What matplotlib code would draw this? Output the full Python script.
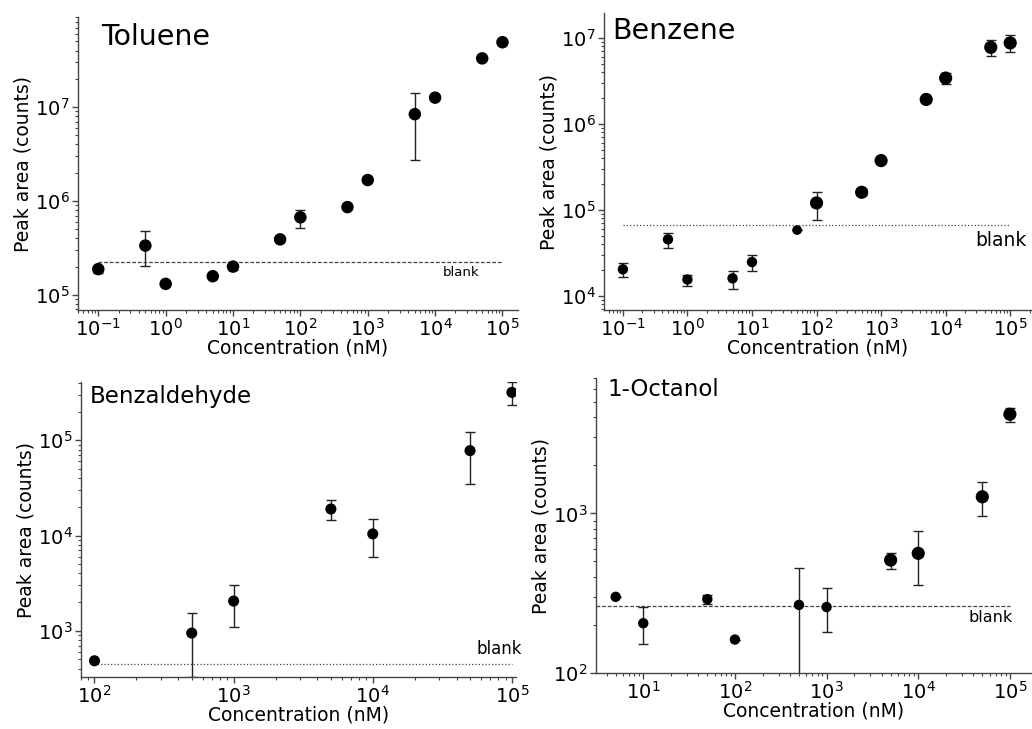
import numpy as np
import matplotlib
matplotlib.use('Agg')
from matplotlib import pyplot as plt
from matplotlib.ticker import LogLocator, NullFormatter, LogFormatterMathtext

plt.rcParams['font.family'] = ['DejaVu Sans']
plt.rcParams['mathtext.fontset'] = 'dejavusans'

# Toluene
tol_conc = [0.1, 0.5, 1, 5, 10, 50, 100, 500, 1000, 5000, 1e4, 5e4, 1e5]
tol_area = [1.88e5, 3.35e5, 1.31e5, 1.58e5, 2.0e5, 3.9e5, 6.7e5, 8.6e5, 1.67e6, 8.4e6, 1.26e7, 3.3e7, 4.9e7]
tol_lo = [1.7e5, 2.03e5, 1.31e5, 1.58e5, 1.85e5, 3.9e5, 5.2e5, 8.6e5, 1.67e6, 2.7e6, 1.26e7, 3.3e7, 4.9e7]
tol_hi = [2.0e5, 4.8e5, 1.31e5, 1.58e5, 2.1e5, 3.9e5, 8.1e5, 8.6e5, 1.67e6, 1.42e7, 1.26e7, 3.3e7, 4.9e7]
tol_blank = 2.26e5

# Benzene
ben_conc = [0.1, 0.5, 1, 5, 10, 50, 100, 500, 1000, 5000, 1e4, 5e4, 1e5]
ben_area = [2.05e4, 4.57e4, 1.56e4, 1.61e4, 2.49e4, 5.86e4, 1.21e5, 1.61e5, 3.76e5, 1.93e6, 3.42e6, 7.78e6, 8.75e6]
ben_lo = [1.68e4, 3.65e4, 1.32e4, 1.22e4, 1.97e4, 5.86e4, 7.67e4, 1.48e5, 3.6e5, 1.85e6, 2.92e6, 6.2e6, 6.8e6]
ben_hi = [2.4e4, 5.4e4, 1.77e4, 1.95e4, 3.0e4, 5.86e4, 1.64e5, 1.75e5, 3.9e5, 2.0e6, 3.9e6, 9.4e6, 1.08e7]
ben_blank = 6.65e4

# Benzaldehyde
bza_conc = [100, 500, 1000, 5000, 1e4, 5e4, 1e5]
bza_area = [484, 946, 2050, 1.9e4, 1.04e4, 7.8e4, 3.19e5]
bza_lo = [484, 330, 1090, 1.46e4, 5.9e3, 3.5e4, 2.35e5]
bza_hi = [484, 1550, 3000, 2.36e4, 1.49e4, 1.21e5, 4.06e5]
bza_blank = 447

# 1-Octanol
oct_conc = [5, 10, 50, 100, 500, 1000, 5000, 1e4, 5e4, 1e5]
oct_area = [300, 205, 290, 162, 267, 259, 510, 562, 1270, 4180]
oct_lo = [300, 152, 271, 162, 80, 181, 451, 356, 957, 3760]
oct_hi = [300, 259, 308, 162, 455, 340, 568, 772, 1577, 4570]
oct_blank = 262

W, H = 1032, 729
fig = plt.figure(figsize=(W / 100, H / 100), dpi=100)


def rect(l, r, t, b):
    return [l / W, 1 - b / H, (r - l) / W, (b - t) / H]


def panel(box, x, y, lo, hi, blank, blank_x0, xlim, ylim, title, tsize, tpos,
          ms, ls, bpos, bsize):
    ax = fig.add_axes(rect(*box))
    x = np.array(x); y = np.array(y)
    yerr = [y - np.array(lo), np.array(hi) - y]
    ax.plot([blank_x0, 1e5], [blank, blank], color='#444444', lw=0.9, ls=ls)
    ax.errorbar(x, y, yerr=yerr, fmt='none', ecolor='#222222', elinewidth=1.0,
                capsize=3.5, capthick=1.0)
    ax.scatter(x, y, s=np.array(ms) ** 2, color='black', zorder=3, linewidths=0)
    ax.set_xscale('log'); ax.set_yscale('log')
    ax.set_xlim(*xlim); ax.set_ylim(*ylim)
    for a in (ax.xaxis, ax.yaxis):
        a.set_major_locator(LogLocator(base=10, numticks=20))
        a.set_minor_locator(LogLocator(base=10, subs=np.arange(2, 10), numticks=20))
        a.set_major_formatter(LogFormatterMathtext())
        a.set_minor_formatter(NullFormatter())
    for s in ('top', 'right'):
        ax.spines[s].set_visible(False)
    for s in ('left', 'bottom'):
        ax.spines[s].set_color('#444444')
        ax.spines[s].set_linewidth(1.0)
    ax.tick_params(which='major', direction='out', length=4, width=1, color='#444444',
                   labelsize=14, pad=2)
    ax.tick_params(which='minor', direction='out', length=2.5, width=0.8, color='#444444')
    ax.set_xlabel('Concentration (nM)', fontsize=13.5, labelpad=-1)
    ax.set_ylabel('Peak area (counts)', fontsize=13.5, labelpad=2)
    ax.set_facecolor('none')
    fig.text(tpos[0] / W, 1 - tpos[1] / H, title, fontsize=tsize, va='center', ha='left')
    fig.text(bpos[0] / W, 1 - bpos[1] / H, 'blank', fontsize=bsize, va='center', ha='left')
    return ax


panel((78, 518, 17, 310), tol_conc, tol_area, tol_lo, tol_hi, tol_blank, 0.1,
      (0.05, 1.7e5), (6.9e4, 9.1e7), 'Toluene', 20.5, (101, 37),
      [9] * 13, (0, (3, 1.5)), (443, 273), 9.5)
panel((604, 1031, 13, 310), ben_conc, ben_area, ben_lo, ben_hi, ben_blank, 0.1,
      (0.051, 2.1e5), (6.9e3, 1.95e7), 'Benzene', 20.5, (612, 31),
      [7.5, 7.5, 7.5, 7.5, 7.5, 7, 9.5, 9.5, 9.5, 9.5, 9.5, 9.5, 9.5], ':', (975, 240), 13.5)
panel((81, 516, 382, 677), bza_conc, bza_area, bza_lo, bza_hi, bza_blank, 100,
      (80, 1.07e5), (327, 4.1e5), 'Benzaldehyde', 16.5, (90, 396),
      [8] * 7, ':', (476, 649), 12)
panel((596, 1031, 378, 673), oct_conc, oct_area, oct_lo, oct_hi, oct_blank, 3.05,
      (3.05, 1.7e5), (100, 7050), '1-Octanol', 16.5, (607, 389),
      [7.5] * 6 + [9.5] * 4, (0, (3, 1.5)), (969, 618), 11.5)

fig.savefig('out.png', dpi=100)
